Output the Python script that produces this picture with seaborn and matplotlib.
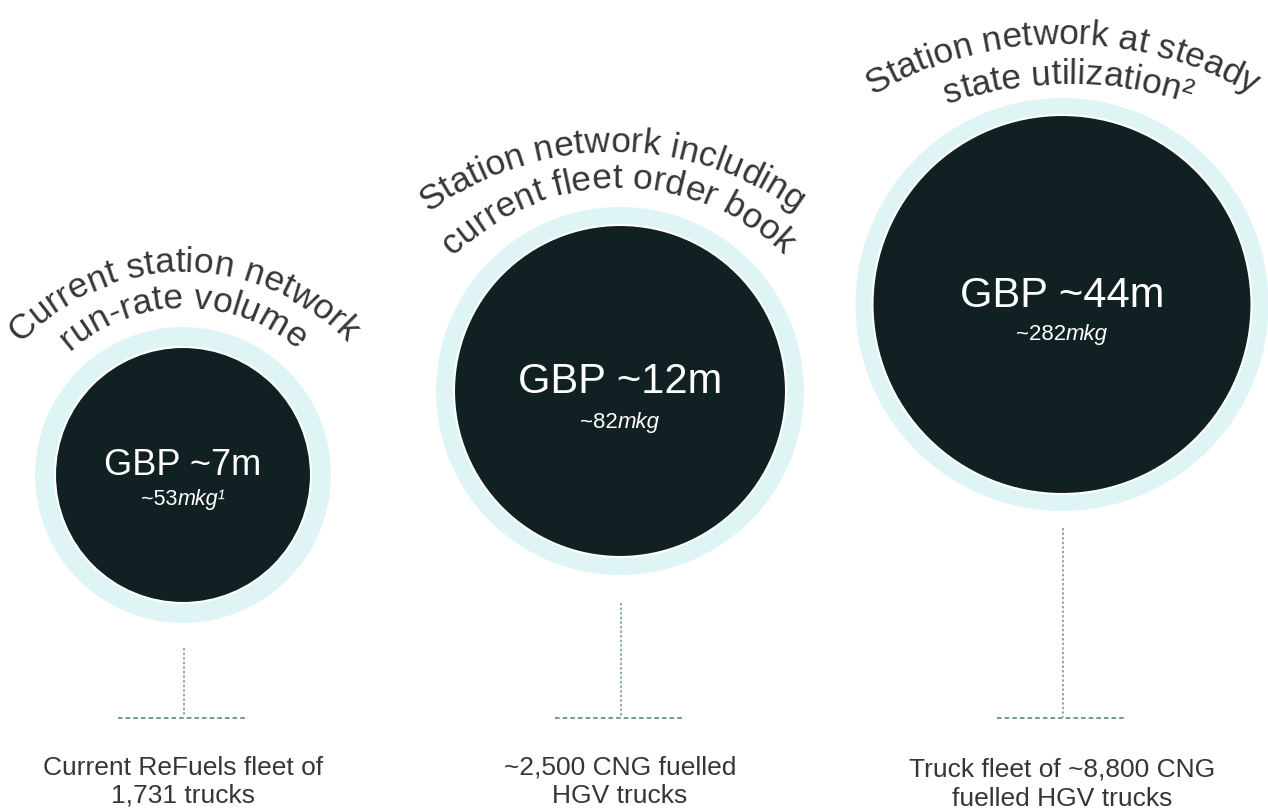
import numpy as np
import matplotlib
matplotlib.use("Agg")
import matplotlib.pyplot as plt
import seaborn as sns
from matplotlib.patches import Circle
from matplotlib.font_manager import findfont, FontProperties, get_font

# ---------------- data ----------------
title_line1 = ["Current station network", "Station network including", "Station network at steady"]
title_line2 = ["run-rate volume", "current fleet order book", "state utilization\u00b2"]
value_labels = ["GBP ~7m", "GBP ~12m", "GBP ~44m"]
volume_numbers = ["~53", "~82", "~282"]
volume_unit = "mkg"
volume_notes = ["\u00b9", "", ""]
caption_line1 = ["Current ReFuels fleet of", "~2,500 CNG fuelled", "Truck fleet of ~8,800 CNG"]
caption_line2 = ["1,731 trucks", "HGV trucks", "fuelled HGV trucks"]

# ---------------- layout (pixels) ----------------
W, H = 1268, 811
centers_x = [183, 620, 1062]
centers_y = [475, 391, 304.5]
outer_r = [148, 184, 206.5]
inner_r = [128, 166, 189.5]
# arc text: (top baseline y, radius) per line
arc1 = [(272, 222), (152, 310), (44, 380)]
arc2 = [(308, 172), (188, 235), (84, 380)]
arc_cx1 = [183, 612, 1062]
arc_cx2 = [183, 618, 1068]
arc_fs = 25.5
value_fs = [26, 30, 30]
value_base = [475, 393, 307]
vol_fs = [15.5, 16, 16]
vol_base = [505, 428, 340]
vline_top = [648, 603, 528]
hline_y = 717
hline_half = 65
cap_base1 = [775, 775, 777]
cap_base2 = [803, 803, 806]
cap_fs = 19

DARK = "#112022"
RING = "#dff5f5"
TXT = "#363636"
FONT = "Liberation Sans"

sns.set_theme(style="white")
plt.rcParams["font.family"] = [FONT, "DejaVu Sans"]

fig = plt.figure(figsize=(W / 100, H / 100), dpi=100)
ax = fig.add_axes([0, 0, 1, 1])


def advances(s, fs_pt, style="normal"):
    prop = FontProperties(family=FONT, style=style)
    font = get_font(findfont(prop))
    font.set_size(fs_pt, 100)
    out = []
    for c in s:
        g = font.load_char(ord(c))
        out.append(g.linearHoriAdvance / 65536.0)
    return out


def arc_text(s, cx, top_y, r, fs, color):
    adv = np.array(advances(s, fs))
    total = adv.sum()
    pos = np.cumsum(adv) - adv / 2 - total / 2
    cy = top_y + r
    for c, p in zip(s, pos):
        th = p / r
        x = cx + r * np.sin(th)
        y = cy - r * np.cos(th)
        ax.text(x, y, c, rotation=-np.degrees(th), ha="center", va="baseline",
                rotation_mode="anchor", fontsize=fs, color=color, family=FONT)


def seg_text(segs, cx, y, fs, color):
    widths = [sum(advances(t, fs, st)) for t, st in segs]
    x = cx - sum(widths) / 2
    for (t, st), w in zip(segs, widths):
        ax.text(x, y, t, ha="left", va="baseline", fontsize=fs, color=color,
                family=FONT, style=st)
        x += w


for i in range(3):
    cx, cy = centers_x[i], centers_y[i]
    ax.add_patch(Circle((cx, cy), outer_r[i], facecolor=RING, edgecolor="none", zorder=1))
    ax.add_patch(Circle((cx, cy), inner_r[i], facecolor=DARK, edgecolor="white", lw=1.5, zorder=2))

    arc_text(title_line1[i], arc_cx1[i], arc1[i][0], arc1[i][1], arc_fs, TXT)
    arc_text(title_line2[i], arc_cx2[i], arc2[i][0], arc2[i][1], arc_fs, TXT)

    seg_text([(value_labels[i], "normal")], cx, value_base[i], value_fs[i], "white")
    segs = [(volume_numbers[i], "normal"), (volume_unit + volume_notes[i], "italic")]
    seg_text(segs, cx, vol_base[i], vol_fs[i], "white")

    sns.lineplot(x=[cx + 0.5, cx + 0.5], y=[vline_top[i], hline_y], ax=ax, color="#6f9494",
                 lw=1.1, linestyle=(0, (1.6, 1.4)), sort=False, estimator=None,
                 errorbar=None)
    sns.lineplot(x=[cx - hline_half, cx + hline_half], y=[hline_y + 0.5, hline_y + 0.5], ax=ax,
                 color="#4d7c7e", lw=1.1, linestyle=(0, (3, 2)), sort=False, estimator=None,
                 errorbar=None)

    ax.text(cx, cap_base1[i], caption_line1[i], ha="center", va="baseline",
            fontsize=cap_fs, color=TXT, family=FONT)
    ax.text(cx, cap_base2[i], caption_line2[i], ha="center", va="baseline",
            fontsize=cap_fs, color=TXT, family=FONT)

ax.set_xlim(0, W)
ax.set_ylim(H, 0)
ax.set_aspect("auto")
ax.axis("off")
fig.savefig("out.png", dpi=100, facecolor="white")
